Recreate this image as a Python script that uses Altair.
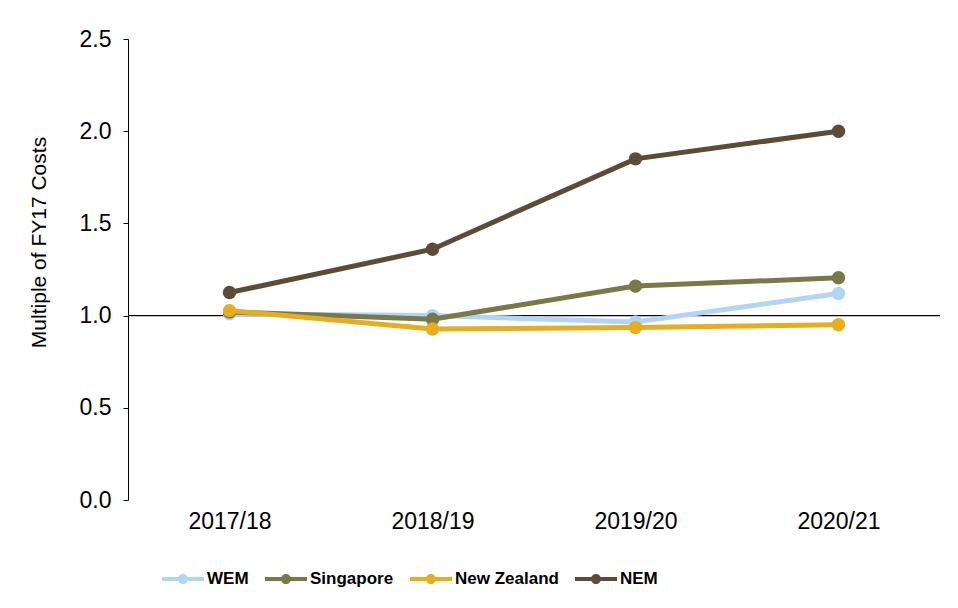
import altair as alt
import pandas as pd

categories = ["2017/18", "2018/19", "2019/20", "2020/21"]
series_names = ["WEM", "Singapore", "New Zealand", "NEM"]
wem = [1.01, 1.00, 0.965, 1.12]
singapore = [1.02, 0.98, 1.16, 1.205]
new_zealand = [1.027, 0.927, 0.935, 0.95]
nem = [1.125, 1.36, 1.85, 2.00]
colors = ["#B1D4F7", "#787848", "#E6AE1C", "#5C4C36"]
y_ticks = [0.0, 0.5, 1.0, 1.5, 2.0, 2.5]
baseline = [1.0]

values = {"WEM": wem, "Singapore": singapore, "New Zealand": new_zealand, "NEM": nem}
rows = []
for s in series_names:
    for c, v in zip(categories, values[s]):
        rows.append({"Year": c, "Series": s, "Value": v})
df = pd.DataFrame(rows)

FONT = "Arial, Liberation Sans, sans-serif"

x_enc = alt.X("Year:N", sort=categories, scale=alt.Scale(paddingInner=0, paddingOuter=0),
              axis=alt.Axis(title=None, labelAngle=0, domain=False, ticks=False,
                            labelFontSize=23, labelPadding=10, labelColor="#000000",
                            labelFont=FONT))
y_enc = alt.Y("Value:Q", scale=alt.Scale(domain=[0, 2.5], nice=False),
              axis=alt.Axis(title="Multiple of FY17 Costs", values=y_ticks, format=".1f",
                            grid=False, domainColor="#000000", tickColor="#000000",
                            tickSize=5, labelFontSize=23, labelPadding=12,
                            labelColor="#000000", titleFontSize=21, titleFontWeight="normal",
                            titleColor="#000000", titlePadding=30, titleY=203,
                            labelFont=FONT, titleFont=FONT))

legend_path = ("M-1,-0.1H1V0.1H-1Z "
               "M0.24,0A0.24,0.24 0 1,1 -0.24,0A0.24,0.24 0 1,1 0.24,0Z")
color_scale = alt.Scale(domain=series_names, range=colors)

leg = alt.Legend(title=None, orient="none", direction="horizontal",
                 legendX=34, legendY=519, symbolType=legend_path,
                 symbolSize=1764, symbolStrokeWidth=0, symbolOpacity=1,
                 labelFontSize=17, labelFontWeight="bold",
                 labelFont="Arial Narrow, Liberation Sans Narrow, Arial, Liberation Sans",
                 labelColor="#000000", labelOffset=3, columnPadding=16,
                 values=series_names)
color_enc = alt.Color("Series:N", scale=color_scale, legend=leg)

rule = alt.Chart(pd.DataFrame({"b": baseline})).mark_rule(color="#000000", strokeWidth=1.2).encode(
    y=alt.Y("b:Q", scale=alt.Scale(domain=[0, 2.5], nice=False))
)

layers = [rule]
for i, s in enumerate(series_names):
    sub = df[df["Series"] == s]
    base = alt.Chart(sub)
    line = base.mark_line(strokeWidth=5).encode(x=x_enc, y=y_enc, color=color_enc)
    pts = base.mark_point(filled=True, size=180, opacity=1).encode(x=x_enc, y=y_enc, color=color_enc)
    layers += [line, pts]

chart = alt.layer(*layers).properties(
    width=812, height=461,
    autosize=alt.AutoSizeParams(type="none"),
    padding={"left": 120, "top": 31, "right": 10, "bottom": 100},
    background="#ffffff",
).configure_view(stroke=None)

chart.save("out.html", embed_options={"renderer": "svg", "actions": False})
